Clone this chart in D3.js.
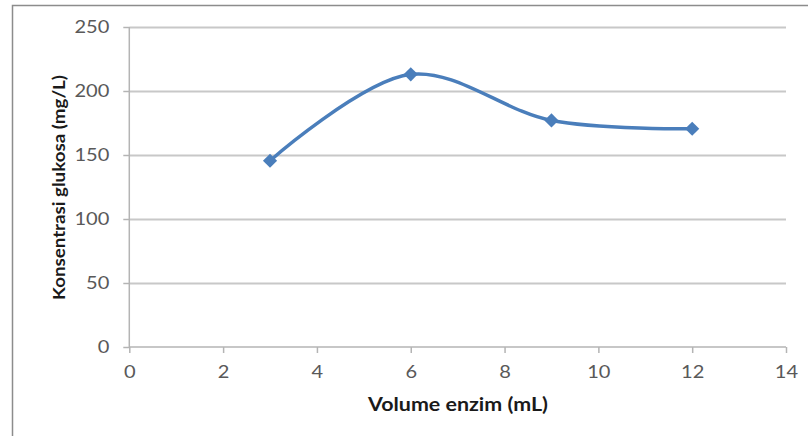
<!DOCTYPE html>
<html><head><meta charset="utf-8">
<script src="https://cdn.jsdelivr.net/npm/d3@7"></script>
<style>body{margin:0;background:#fff}svg{display:block}</style>
</head><body><svg id="c" width="808" height="436"></svg>
<script>
const volumes = [3, 6, 9, 12];
const glucose = [145.5, 213, 177, 170.5];
const xTicks = [0, 2, 4, 6, 8, 10, 12, 14];
const yTicks = [0, 50, 100, 150, 200, 250];
const xTitle = "Volume enzim (mL)";
const yTitle = "Konsentrasi glukosa (mg/L)";

const svg = d3.select("#c");
const font = "Lato, 'Open Sans', sans-serif";
// frame
svg.append("path").attr("d","M12.5,440 V5.5 H810").attr("fill","none").attr("stroke","#8c8c8c").attr("stroke-width",1.5);

const x = d3.scaleLinear().domain([0,14]).range([129.3,786]);
const y = d3.scaleLinear().domain([0,250]).range([347,27]);

// gridlines
svg.append("g").selectAll("line").data(yTicks.filter(d=>d>0)).join("line")
  .attr("x1",x(0)).attr("x2",x(14)).attr("y1",d=>Math.round(y(d))+0.5).attr("y2",d=>Math.round(y(d))+0.5)
  .attr("stroke","#c8c8c8").attr("stroke-width",2);

const ya = svg.append("g").attr("transform",`translate(${x(0)},0)`)
  .call(d3.axisLeft(y).tickValues(yTicks).tickSize(6).tickPadding(14));
const xa = svg.append("g").attr("transform",`translate(0,${y(0)})`)
  .call(d3.axisBottom(x).tickValues(xTicks).tickSize(6).tickPadding(13));
[ya,xa].forEach(g=>{
  g.select(".domain").remove();
  g.selectAll("line").attr("stroke","#b4b4b4").attr("stroke-width",1.5);
  g.selectAll("text").attr("fill","#595959").style("font-family",font).style("font-size","17px");
});
ya.selectAll("text").attr("x",0).attr("transform","translate(-20,0) scale(1.18,1)");
xa.selectAll("text").attr("transform","scale(1.18,1)");
// axis lines
svg.append("line").attr("x1",x(0)).attr("x2",x(0)).attr("y1",y(250)).attr("y2",y(0)).attr("stroke","#b4b4b4").attr("stroke-width",1.5);
svg.append("line").attr("x1",x(0)).attr("x2",x(14)).attr("y1",y(0)).attr("y2",y(0)).attr("stroke","#b4b4b4").attr("stroke-width",1.5);

svg.append("text").attr("x",458).attr("y",411).attr("text-anchor","middle")
  .attr("textLength",180).attr("lengthAdjust","spacingAndGlyphs")
  .style("font-family",font).style("font-size","18.5px").style("font-weight","bold").attr("fill","#1a1a1a").text(xTitle);
svg.append("text").attr("transform","translate(65,187.5) rotate(-90)").attr("text-anchor","middle")
  .attr("textLength",225).attr("lengthAdjust","spacingAndGlyphs")
  .style("font-family",font).style("font-size","17px").style("font-weight","bold").attr("fill","#1a1a1a").text(yTitle);

const pts = volumes.map((v,i)=>[v,glucose[i]]);
const line = d3.line().x(d=>x(d[0])).y(d=>y(d[1])).curve(d3.curveCatmullRom.alpha(0.5));
svg.append("path").attr("d",line(pts)).attr("fill","none").attr("stroke","#4a7ebb").attr("stroke-width",3.5);
svg.append("g").selectAll("path").data(pts).join("path")
  .attr("transform",d=>`translate(${x(d[0])},${y(d[1])})`)
  .attr("d",d3.symbol().type(d3.symbolDiamond2).size(128))
  .attr("fill","#4a7ebb");
</script></body></html>
